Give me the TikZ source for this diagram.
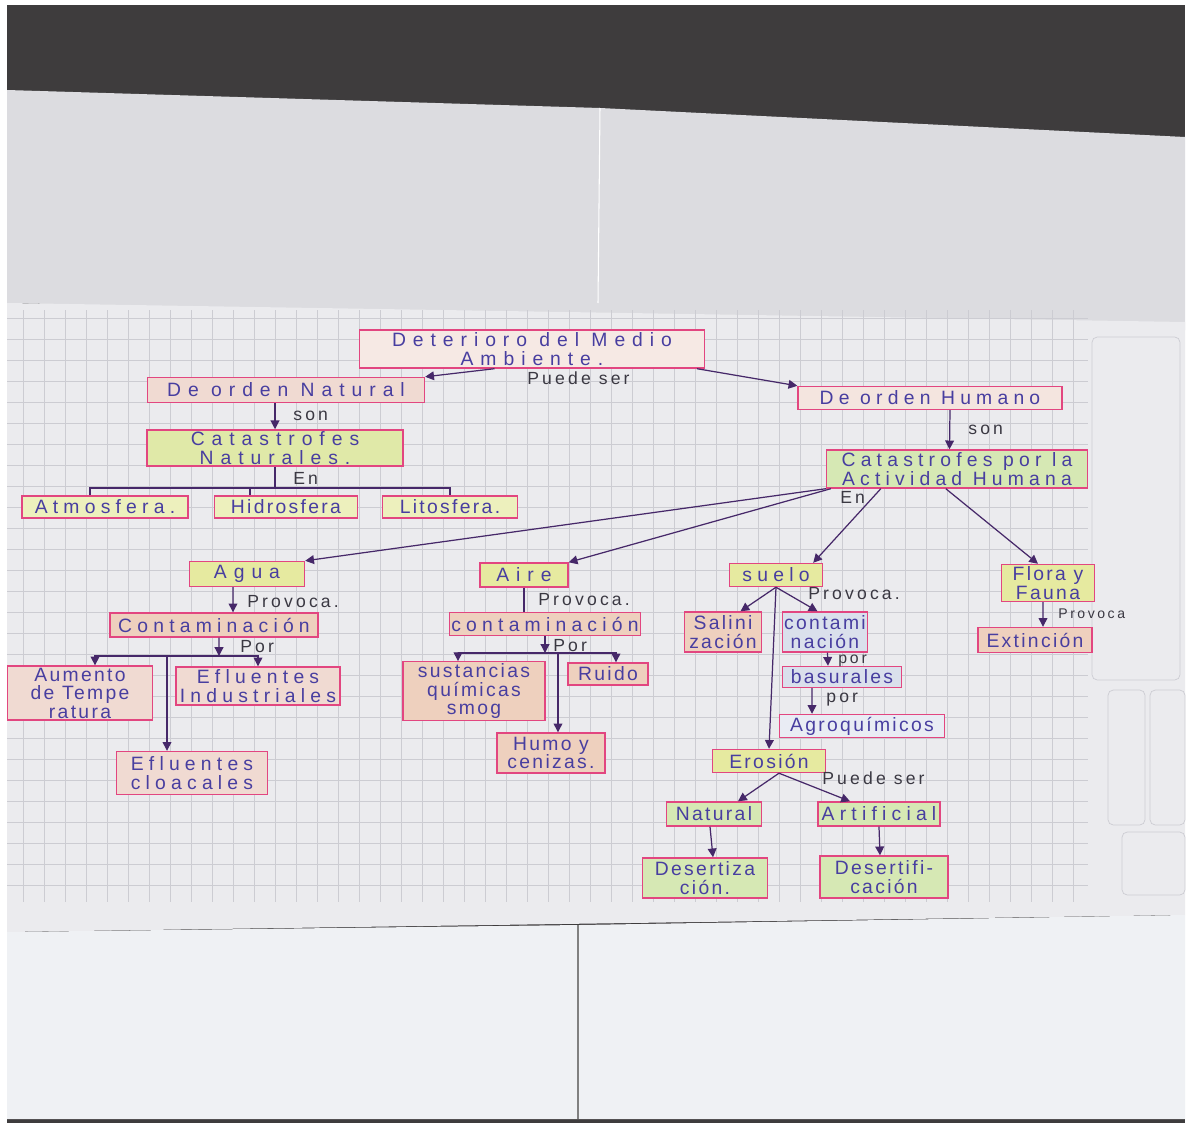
\documentclass[tikz,border=0pt]{standalone}
\usepackage{fontspec}
\usepackage{tikz}
\usetikzlibrary{arrows.meta}
\newfontfamily\hand[LetterSpace=12]{Liberation Sans}
\newfontfamily\handm[LetterSpace=27]{Liberation Sans}
\newfontfamily\handw[LetterSpace=36]{Liberation Sans}
\newfontfamily\linkf[LetterSpace=18]{Liberation Sans}
\definecolor{carpet}{RGB}{62,60,61}
\definecolor{sheet}{RGB}{220,220,224}
\definecolor{gridsheet}{RGB}{235,235,238}
\definecolor{lowsheet}{RGB}{239,241,244}
\definecolor{gridline}{RGB}{204,204,210}
\definecolor{pinkline}{RGB}{226,70,128}
\definecolor{ink}{RGB}{72,62,160}
\definecolor{pen}{RGB}{58,56,66}
\definecolor{arrowink}{RGB}{70,40,105}
\definecolor{peach}{RGB}{240,218,210}
\definecolor{ochre}{RGB}{238,208,190}
\definecolor{lemon}{RGB}{230,234,160}
\definecolor{leaf}{RGB}{214,232,180}
\definecolor{sky}{RGB}{218,224,236}
\tikzset{
    box/.style={draw=pinkline, line width=0.8pt, text=ink, inner sep=1pt, align=center, font=\hand\fontsize{11}{10.5}\selectfont},
    boxm/.style={box, font=\handm\fontsize{11}{10.5}\selectfont},
    boxw/.style={box, font=\handw\fontsize{11}{10.5}\selectfont},
    linkword/.style={anchor=west, text=pen, inner sep=0pt, font=\linkf\fontsize{10}{10}\selectfont},
    conn/.style={draw=arrowink, line width=0.7pt},
    arr/.style={conn, -{Triangle[width=5pt,length=5pt]}},
    gridrule/.style={draw=gridline, line width=0.4pt}
}
\begin{document}
\begin{tikzpicture}[x=0.02cm, y=-0.02cm]
        \useasboundingbox (0,0) rectangle (1191,1129);
        \fill[white] (0,0) rectangle (1191,1129);
        \fill[carpet] (7,5) rectangle (1185,1123);
        \fill[sheet] (7,90) -- (600,108) -- (1185,137) -- (1185,330) -- (7,303) -- cycle;
        \draw[white, line width=0.6pt] (600,108) -- (598,303);
        \fill[gridsheet] (7,303) -- (1185,322) -- (1185,915) -- (7,932) -- cycle;
        \fill[lowsheet] (7,932) -- (580,925) -- (1185,915) -- (1185,1119) -- (7,1119) -- cycle;
        \draw[gray, line width=0.6pt] (578,925) -- (578,1119);
        \foreach \gx in {23,44,...,1088} \draw[gridrule] (\gx,310) -- (\gx,902);
        \foreach \gy in {318,339,...,902} \draw[gridrule] (7,\gy) -- (1088,\gy);
        \draw[gridrule, rounded corners=3] (1092,337) rectangle (1180,680);
        \draw[gridrule, rounded corners=3] (1108,690) rectangle (1145,825);
        \draw[gridrule, rounded corners=3] (1150,690) rectangle (1185,825);
        \draw[gridrule, rounded corners=3] (1122,832) rectangle (1185,895);

        \node[boxw, fill=peach!60, minimum width=6.9cm, minimum height=0.76cm] (det) at (532,349) {Deterioro del Medio\\Ambiente.};
        \node[boxw, fill=peach, minimum width=5.54cm, minimum height=0.5cm] (nat) at (286,390) {De orden Natural};
        \node[boxm, fill=peach!70, minimum width=5.28cm, minimum height=0.46cm] (hum) at (930,398) {De orden Humano};
        \node[boxw, fill=lemon!60!leaf, minimum width=5.12cm, minimum height=0.72cm] (catn) at (275,448) {Catastrofes\\Naturales.};
        \node[boxm, fill=lemon!70, minimum width=3.32cm, minimum height=0.44cm] (atm) at (105,507) {Atmosfera.};
        \node[box, fill=lemon!70, minimum width=2.86cm, minimum height=0.44cm] (hid) at (286,507) {Hidrosfera};
        \node[box, fill=lemon!70, minimum width=2.7cm, minimum height=0.44cm] (lit) at (450,507) {Litosfera.};
        \node[boxm, fill=leaf, minimum width=5.22cm, minimum height=0.76cm] (cath) at (957,469) {Catastrofes por la\\Actividad Humana};

        \node[boxw, fill=lemon, minimum width=2.3cm, minimum height=0.5cm] (agua) at (247,574) {Agua};
        \node[boxw, fill=lemon, minimum width=1.76cm, minimum height=0.48cm] (aire) at (524,575) {Aire};
        \node[boxm, fill=lemon, minimum width=1.86cm, minimum height=0.46cm] (suelo) at (776,575) {suelo};
        \node[box, fill=lemon, minimum width=1.86cm, minimum height=0.74cm] (flora) at (1048,583) {Flora y\\Fauna};

        \node[boxm, fill=ochre, minimum width=4.16cm, minimum height=0.48cm] (conta) at (214,625) {Contaminación};
        \node[box, fill=peach, minimum width=2.9cm, minimum height=1.06cm] (aum) at (80,693) {Aumento\\de Tempe\\ratura};
        \node[boxm, fill=peach, minimum width=3.28cm, minimum height=0.76cm] (efi) at (258,686) {Efluentes\\Industriales};
        \node[boxm, fill=peach, minimum width=3.02cm, minimum height=0.86cm] (efc) at (192,773) {Efluentes\\cloacales};

        \node[boxm, fill=ochre, minimum width=3.72cm, minimum height=0.46cm] (contb) at (545,624) {contaminación};
        \node[box, fill=ochre, minimum width=2.84cm, minimum height=1.14cm] (sus) at (474,691) {sustancias\\químicas\\smog};
        \node[box, fill=ochre, minimum width=1.6cm, minimum height=0.44cm] (rui) at (608,674) {Ruido};
        \node[box, fill=ochre, minimum width=2.16cm, minimum height=0.8cm] (humo) at (551,753) {Humo y\\cenizas.};

        \node[box, fill=ochre, minimum width=1.54cm, minimum height=0.8cm] (sal) at (723,632) {Salini\\zación};
        \node[box, fill=sky, minimum width=1.7cm, minimum height=0.8cm] (contc) at (825,632) {contami\\nación};
        \node[box, fill=sky, minimum width=2.38cm, minimum height=0.42cm] (bas) at (842,677) {basurales};
        \node[box, fill=sky!60, minimum width=3.3cm, minimum height=0.46cm] (agr) at (862,726) {Agroquímicos};
        \node[box, fill=lemon, minimum width=2.26cm, minimum height=0.46cm] (ero) at (769,761) {Erosión};
        \node[box, fill=leaf, minimum width=1.9cm, minimum height=0.48cm] (natu) at (714,814) {Natural};
        \node[boxm, fill=leaf, minimum width=2.44cm, minimum height=0.48cm] (art) at (879,814) {Artificial};
        \node[box, fill=leaf, minimum width=2.5cm, minimum height=0.8cm] (desz) at (705,878) {Desertiza\\ción.};
        \node[box, fill=leaf, minimum width=2.56cm, minimum height=0.84cm] (desf) at (884,877) {Desertifi-\\cación};
        \node[box, fill=ochre, minimum width=2.28cm, minimum height=0.5cm] (ext) at (1035,640) {Extinción};

        \node[linkword] (pds1) at (527,378) {Puede ser};
        \node[linkword] (son1) at (293,416) {son};
        \node[linkword] (en1) at (293,478) {En};
        \node[linkword] (son2) at (968,430) {son};
        \node[linkword] (en2) at (840,497) {En};
        \node[linkword] (prv1) at (247,602) {Provoca.};
        \node[linkword] (por1) at (240,647) {Por};
        \node[linkword] (prv2) at (538,600) {Provoca.};
        \node[linkword] (por2) at (553,646) {Por};
        \node[linkword] (prv3) at (808,594) {Provoca.};
        \node[linkword, font=\linkf\fontsize{9}{9}\selectfont] (por3) at (838,661) {por};
        \node[linkword] (por4) at (826,700) {por};
        \node[linkword] (pds2) at (822,778) {Puede ser};
        \node[linkword, font=\linkf\fontsize{8}{8}\selectfont] (prv4) at (1058,614) {Provoca};

        \draw[arr] ([xshift=-0.75cm]det.south) -- (nat.north east);
        \draw[arr] ([xshift=3.3cm]det.south) -- (hum.north west);
        \draw[arr] (catn.north |- nat.south) -- (catn.north);
        \coordinate (busn) at (275,488);
        \draw[conn] (catn.south) -- (busn);
        \draw[conn] ([xshift=-0.3cm]atm.north) |- (busn) -| (lit.north);
        \draw[conn] ([xshift=-0.72cm]hid.north) -- ([xshift=-0.72cm]hid.north |- busn);
        \draw[arr] ([xshift=0.4cm]hum.south) -- ([xshift=-0.15cm]cath.north);

        \draw[arr] (cath.south west) -- (agua.north east);
        \draw[arr] ([xshift=0.1cm]cath.south west) -- (aire.north east);
        \draw[arr] ([xshift=1.1cm]cath.south west) -- ([xshift=-0.2cm]suelo.north east);
        \draw[arr] ([xshift=2.4cm]cath.south west) -- ([xshift=-0.2cm]flora.north);

        \draw[arr] ([xshift=-0.28cm]agua.south) -- ([xshift=0.38cm]conta.north);
        \coordinate (busa) at (219,656);
        \draw[arr] ([xshift=0.1cm]conta.south) -- (busa);
        \draw[arr] (busa) -| ([xshift=0.3cm]aum.north);
        \draw[arr] (busa) -| (efi.north);
        \draw[arr] ([xshift=-0.5cm]efc.north |- busa) -- ([xshift=-0.5cm]efc.north);

        \draw[conn] (aire.south) -- (aire.south |- contb.north);
        \coordinate (busb) at (545,653);
        \draw[arr] (contb.south) -- (busb);
        \draw[arr] (busb) -| ([xshift=-0.32cm]sus.north);
        \draw[arr] (busb) -| ([xshift=0.16cm]rui.north);
        \draw[arr] ([xshift=0.14cm]humo.north |- busb) -- ([xshift=0.14cm]humo.north);

        \draw[arr] (suelo.south) -- ([xshift=0.35cm]sal.north);
        \draw[arr] (suelo.south) -- ([xshift=-0.15cm]contc.north);
        \draw[arr] (suelo.south) -- (ero.north);
        \draw[arr] ([xshift=0.05cm]contc.south) -- ([xshift=-0.28cm]bas.north);
        \draw[arr] ([xshift=-0.6cm]bas.south) -- ([xshift=-1.0cm]agr.north);
        \draw[arr] ([xshift=0.2cm]ero.south) -- ([xshift=0.48cm]natu.north);
        \draw[arr] ([xshift=0.2cm]ero.south) -- ([xshift=-0.58cm]art.north);
        \draw[arr] ([xshift=-0.08cm]natu.south) -- ([xshift=0.16cm]desz.north);
        \draw[arr] (art.south) -- ([xshift=-0.08cm]desf.north);
        \draw[arr] ([xshift=-0.1cm]flora.south) -- ([xshift=0.16cm]ext.north);
\end{tikzpicture}
\end{document}
